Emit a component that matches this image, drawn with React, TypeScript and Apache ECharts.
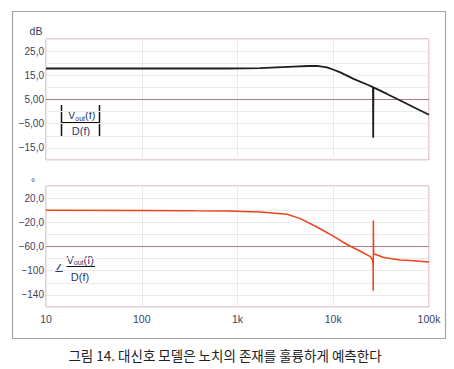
import React, { useEffect, useRef } from "react";
import * as echarts from "echarts";

// ---- data ----
const magFreq = [10, 100, 776, 1730, 3860, 5500, 6760, 8600, 10100, 11850, 16300, 22500, 26000, 26150, 26250, 36400, 50100, 69200, 100000];
const magDb = [17.8, 17.8, 17.8, 18.0, 18.6, 18.85, 18.9, 18.3, 17.3, 16.2, 13.5, 11.2, 10.1, -10.8, 10.0, 7.3, 4.6, 1.8, -1.3];

const phaseFreq = [10, 100, 350, 776, 1730, 3290, 4530, 6760, 10100, 13900, 19200, 24400, 25700, 26100, 26150, 26250, 26400, 33300, 36400, 50100, 63400, 100000];
const phaseDeg = [0, -0.3, -1, -1.2, -2.8, -6.7, -13.9, -27.8, -43.3, -56.7, -67.8, -76.7, -82, -92, -133, -17, -72, -77.8, -78.9, -82.2, -83.3, -85.6];

const xTickValues = [10, 100, 1000, 10000, 100000];
const xTickTexts = ["10", "100", "1k", "10k", "100k"];
const magTickValues = [25, 15, 5, -5, -15];
const magTickTexts = ["25,0", "15,0", "5,00", "−5,00", "−15,0"];
const phaseTickValues = [20, -20, -60, -100, -140];
const phaseTickTexts = ["20,0", "−20,0", "−60,0", "−100", "−140"];

const LABEL_COLOR = "#3a4260";
const FORMULA_COLOR = "#2b3a67";
const GRID_BORDER = "#c99ea6";
const EMPH = "#b07a84";
const MINOR = "#f0e7e9";
const FONT = "'Liberation Sans', Arial, sans-serif";

function lookup(values: number[], texts: string[], v: number): string {
  const i = values.findIndex((t) => Math.abs(t - v) < 1e-6 * Math.max(1, Math.abs(t)));
  return i >= 0 ? texts[i] : "";
}

export default function App() {
  const ref = useRef<HTMLDivElement>(null);
  useEffect(() => {
    if (!ref.current) return;
    const chart = echarts.init(ref.current, null, { renderer: "svg" });

    const xAxisBase = {
      type: "log" as const,
      logBase: 10,
      min: 10,
      max: 100000,
      axisLine: { show: false },
      axisTick: { show: false },
      splitLine: { show: true, lineStyle: { color: MINOR, width: 1 } },
    };

    const text = (id: string, x: number, y: number, t: string, size: number, color: string, align = "center", family = FONT) => ({
      id,
      type: "text",
      x,
      y,
      silent: true,
      style: {
        text: t,
        fill: color,
        font: `${size}px ${family}`,
        textAlign: align,
        textVerticalAlign: "middle",
        align,
        verticalAlign: "middle",
      },
    });
    const line = (id: string, x1: number, y1: number, x2: number, y2: number, color: string, w: number) => ({
      id,
      type: "line",
      silent: true,
      shape: { x1, y1, x2, y2 },
      style: { stroke: color, lineWidth: w },
    });

    const yAxisBase = {
      type: "value" as const,
      axisLine: { show: false },
      axisTick: { show: false },
      splitLine: { show: true, lineStyle: { color: MINOR, width: 1 } },
      axisLabel: { show: false },
    };

    chart.setOption({
      animation: false,
      backgroundColor: "#ffffff",
      grid: [
        { left: 46, top: 39, width: 383, height: 121, show: true, borderColor: GRID_BORDER, borderWidth: 1, backgroundColor: "transparent" },
        { left: 46, top: 186, width: 383, height: 121, show: true, borderColor: GRID_BORDER, borderWidth: 1, backgroundColor: "transparent" },
      ],
      xAxis: [
        { ...xAxisBase, gridIndex: 0, axisLabel: { show: false } },
        {
          ...xAxisBase,
          gridIndex: 1,
          axisLabel: {
            show: true,
            color: LABEL_COLOR,
            fontSize: 10.5,
            fontFamily: FONT,
            margin: 6,
            formatter: (v: number) => lookup(xTickValues, xTickTexts, v),
          },
        },
      ],
      yAxis: [
        { ...yAxisBase, gridIndex: 0, min: -20, max: 30, interval: 5 },
        { ...yAxisBase, gridIndex: 1, min: -160, max: 40, interval: 20 },
      ],
      series: [
        {
          type: "line",
          xAxisIndex: 0,
          yAxisIndex: 0,
          data: magFreq.map((f, i) => [f, magDb[i]]),
          showSymbol: false,
          symbol: "none",
          lineStyle: { color: "#1e1e1e", width: 1.8 },
          z: 5,
          markLine: {
            silent: true,
            symbol: "none",
            label: { show: false },
            lineStyle: { color: EMPH, width: 1, type: "solid" },
            data: [{ yAxis: 5 }],
          },
        },
        {
          type: "line",
          xAxisIndex: 1,
          yAxisIndex: 1,
          data: phaseFreq.map((f, i) => [f, phaseDeg[i]]),
          showSymbol: false,
          symbol: "none",
          lineStyle: { color: "#e8441e", width: 1.5 },
          z: 5,
          markLine: {
            silent: true,
            symbol: "none",
            label: { show: false },
            lineStyle: { color: EMPH, width: 1, type: "solid" },
            data: [{ yAxis: -60 }],
          },
        },
      ],
      graphic: [
        {
          id: "frame",
          type: "rect",
          silent: true,
          shape: { x: 12.5, y: 11.5, width: 433, height: 327 },
          style: { fill: "none", stroke: "#a6a6a6", lineWidth: 1.2 },
          z: -1,
        },
        text("dB", 36, 31, "dB", 10.5, LABEL_COLOR),
        text("deg", 33, 182, "°", 10, LABEL_COLOR),
        // magnitude formula
        line("mb1", 61.5, 105, 61.5, 137, "#111", 1.5),
        line("mb2", 99.5, 105, 99.5, 137, "#111", 1.5),
        line("mf", 61.5, 122.5, 99.5, 122.5, "#111", 1),
        text("mv", 68, 115, "V", 11, FORMULA_COLOR, "left"),
        text("mo", 75.3, 118, "out", 7, FORMULA_COLOR, "left"),
        text("mp", 85, 115, "(f)", 11, FORMULA_COLOR, "left"),
        text("md", 81, 131, "D(f)", 11, FORMULA_COLOR),
        // phase formula
        text("pa", 59, 268, "∠", 11, FORMULA_COLOR, "center", "'DejaVu Sans', sans-serif"),
        line("pf", 66.5, 266.5, 95, 266.5, "#111", 1),
        text("pv", 66.5, 259.5, "V", 11, FORMULA_COLOR, "left"),
        text("po", 73.8, 262.5, "out", 7, FORMULA_COLOR, "left"),
        text("pp", 83.5, 259.5, "(f)", 11, FORMULA_COLOR, "left"),
        text("pd", 80, 276.5, "D(f)", 11, FORMULA_COLOR),
        // caption
        text("cap", 225, 355, "그림 14. 대신호 모델은 노치의 존재를 훌륭하게 예측한다", 13.5, "#222222", "center", "'Noto Sans CJK KR', sans-serif"),
      ],
    });

    // y tick labels placed through the axes' own scales
    const labelX = 44;
    const tickLabels: any[] = [];
    magTickValues.forEach((v, i) => {
      const y = chart.convertToPixel({ yAxisIndex: 0 }, v) as number;
      tickLabels.push(text(`ym${i}`, labelX, y, magTickTexts[i], 10, LABEL_COLOR, "right"));
    });
    phaseTickValues.forEach((v, i) => {
      const y = chart.convertToPixel({ yAxisIndex: 1 }, v) as number;
      tickLabels.push(text(`yp${i}`, labelX, y, phaseTickTexts[i], 10, LABEL_COLOR, "right"));
    });
    chart.setOption({ graphic: tickLabels });

    return () => chart.dispose();
  }, []);

  return <div ref={ref} style={{ position: "fixed", left: 0, top: 0, width: 454, height: 369, background: "#fff" }} />;
}
